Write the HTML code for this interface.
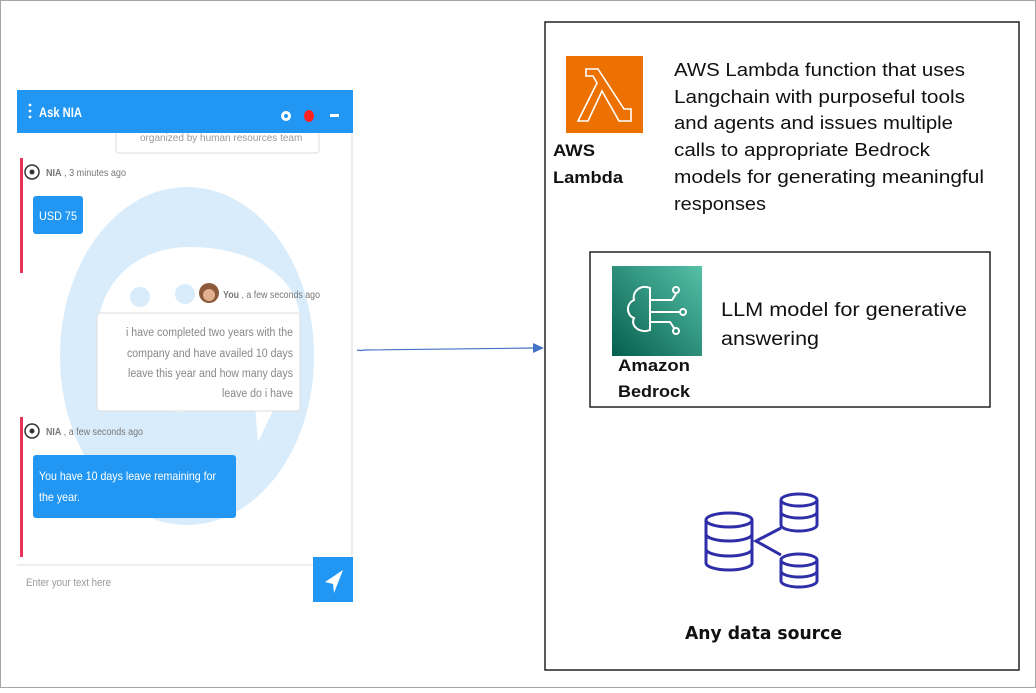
<!DOCTYPE html>
<html><head><meta charset="utf-8"><style>
body{margin:0;background:#fff;}
svg text{font-family:"Liberation Sans",sans-serif;}
.c{font-family:"DejaVu Sans","Liberation Sans",sans-serif;}
</style></head><body>
<svg width="1036" height="688" viewBox="0 0 1036 688" xmlns="http://www.w3.org/2000/svg">
<rect x="0.5" y="0.5" width="1035" height="687" fill="#fff" stroke="#a6a6a6"/>
<!-- chat panel -->
<rect x="17" y="90" width="336" height="512" fill="#fff"/>
<line x1="352" y1="132" x2="352" y2="565" stroke="#ddd"/>
<ellipse cx="187" cy="356" rx="127" ry="169" fill="#d8ecfb"/>
<path d="M190 247 C130 247 98 290 98 330 C98 380 130 410 180 412 L255 405 L258 442 L278 400 C300 380 300 340 300 320 C300 280 255 247 190 247Z" fill="#fff"/>
<circle cx="140" cy="297" r="10" fill="#d8ecfb"/>
<circle cx="185" cy="294" r="10" fill="#d8ecfb"/>
<rect x="116" y="125" width="203" height="28" rx="3" fill="#fff" stroke="#ddd"/>
<text x="140" y="141" font-size="10" fill="#999">organized by human resources team</text>
<rect x="17" y="90" width="336" height="43" fill="#2196f3"/>
<circle cx="30" cy="105" r="1.4" fill="#fff"/><circle cx="30" cy="111" r="1.4" fill="#fff"/><circle cx="30" cy="117" r="1.4" fill="#fff"/>
<text x="39" y="117" font-size="14" font-weight="bold" fill="#fff" textLength="43" lengthAdjust="spacingAndGlyphs">Ask NIA</text>
<circle cx="286" cy="116" r="5" fill="#fff"/><circle cx="286" cy="116" r="2" fill="#2196f3"/>
<ellipse cx="309" cy="116" rx="5" ry="6" fill="#f22"/>
<rect x="330" y="114" width="9" height="3" fill="#fff"/>
<rect x="20" y="158" width="3" height="115" fill="#e8345a"/>
<rect x="20" y="417" width="3" height="140" fill="#e8345a"/>
<circle cx="32" cy="172" r="7" fill="#fff" stroke="#333" stroke-width="1.5"/><circle cx="32" cy="172" r="2.5" fill="#333"/>
<text x="46" y="176" font-size="10" fill="#777" textLength="80" lengthAdjust="spacingAndGlyphs"><tspan font-weight="bold">NIA</tspan> , 3 minutes ago</text>
<rect x="33" y="196" width="50" height="38" rx="3" fill="#2196f3"/>
<text x="39" y="220" font-size="12" fill="#fff" textLength="38" lengthAdjust="spacingAndGlyphs">USD 75</text>
<circle cx="209" cy="293" r="10" fill="#8a5a3a"/><circle cx="209" cy="295" r="6" fill="#e0b090"/>
<text x="223" y="298" font-size="10" fill="#777" textLength="97" lengthAdjust="spacingAndGlyphs"><tspan font-weight="bold">You</tspan> , a few seconds ago</text>
<rect x="97" y="313" width="203" height="98" rx="3" fill="#fff" stroke="#ddd"/>
<g font-size="11.5" fill="#888">
<text x="126" y="336" textLength="167" lengthAdjust="spacingAndGlyphs">i have completed two years with the</text>
<text x="127" y="357" textLength="166" lengthAdjust="spacingAndGlyphs">company and have availed 10 days</text>
<text x="128" y="377" textLength="165" lengthAdjust="spacingAndGlyphs">leave this year and how many days</text>
<text x="222" y="397" textLength="71" lengthAdjust="spacingAndGlyphs">leave do i have</text></g>
<circle cx="32" cy="431" r="7" fill="#fff" stroke="#333" stroke-width="1.5"/><circle cx="32" cy="431" r="2.5" fill="#333"/>
<text x="46" y="435" font-size="10" fill="#777" textLength="97" lengthAdjust="spacingAndGlyphs"><tspan font-weight="bold">NIA</tspan> , a few seconds ago</text>
<rect x="33" y="455" width="203" height="63" rx="3" fill="#2196f3"/>
<text x="39" y="480" font-size="12" fill="#fff" textLength="177" lengthAdjust="spacingAndGlyphs">You have 10 days leave remaining for</text>
<text x="39" y="501" font-size="12" fill="#fff" textLength="41" lengthAdjust="spacingAndGlyphs">the year.</text>
<line x1="17" y1="565" x2="313" y2="565" stroke="#ddd"/>
<text x="26" y="586" font-size="11" fill="#999" textLength="85" lengthAdjust="spacingAndGlyphs">Enter your text here</text>
<rect x="313" y="557" width="40" height="45" fill="#2196f3"/>
<path d="M343 570 L325 582 L333 584 L334 593 Z" fill="#fff"/>
<!-- arrow -->
<path d="M357 350 Q360 351 365 350 L534 348" stroke="#4472c4" stroke-width="1.2" fill="none"/>
<path d="M533 343 L544 348 L533 353Z" fill="#4472c4"/>
<!-- right box -->
<rect x="545" y="22" width="474" height="648" fill="#fff" stroke="#222" stroke-width="1.5"/>
<rect x="566" y="56" width="77" height="77" fill="#ed7100"/>
<path d="M586 69 L598 69 L624 109 L631 109 L631 121 L619 121 L602 91 L588 121 L578 121 L597 83 L593 76 L586 76 Z" fill="none" stroke="#fff" stroke-width="1.6"/>
<g font-size="17" font-weight="bold" fill="#111" class="c"><text x="553" y="156" textLength="42" lengthAdjust="spacingAndGlyphs">AWS</text><text x="553" y="183" textLength="70" lengthAdjust="spacingAndGlyphs">Lambda</text></g>
<g font-size="18" fill="#111" class="c">
<text x="674" y="76" textLength="291" lengthAdjust="spacingAndGlyphs">AWS Lambda function that uses</text>
<text x="674" y="103" textLength="291" lengthAdjust="spacingAndGlyphs">Langchain with purposeful tools</text>
<text x="674" y="129" textLength="279" lengthAdjust="spacingAndGlyphs">and agents and issues multiple</text>
<text x="674" y="156" textLength="256" lengthAdjust="spacingAndGlyphs">calls to appropriate Bedrock</text>
<text x="674" y="183" textLength="310" lengthAdjust="spacingAndGlyphs">models for generating meaningful</text>
<text x="674" y="210" textLength="92" lengthAdjust="spacingAndGlyphs">responses</text></g>
<rect x="590" y="252" width="400" height="155" fill="#fff" stroke="#222" stroke-width="1.5"/>
<defs><linearGradient id="g" x1="0" y1="1" x2="1" y2="0"><stop offset="0" stop-color="#055f4e"/><stop offset="1" stop-color="#56c0a7"/></linearGradient></defs>
<rect x="612" y="266" width="90" height="90" fill="url(#g)"/>
<g fill="none" stroke="#fff" stroke-width="2">
<path d="M650 288 C640 284 632 292 634 300 C625 304 627 316 634 318 C630 326 640 334 650 330 Z"/>
<path d="M650 300 L672 300 L676 294 M650 312 L680 312 M650 322 L670 322 L674 328"/>
<circle cx="676" cy="290" r="3"/><circle cx="683" cy="312" r="3"/><circle cx="676" cy="331" r="3"/></g>
<g font-size="17" font-weight="bold" fill="#111" class="c"><text x="618" y="371" textLength="72" lengthAdjust="spacingAndGlyphs">Amazon</text><text x="618" y="397" textLength="72" lengthAdjust="spacingAndGlyphs">Bedrock</text></g>
<g font-size="19" fill="#111" class="c"><text x="721" y="316" textLength="246" lengthAdjust="spacingAndGlyphs">LLM model for generative</text><text x="721" y="345" textLength="98" lengthAdjust="spacingAndGlyphs">answering</text></g>
<!-- data source -->
<g fill="none" stroke="#2e2ea8" stroke-width="3">
<path d="M706 520 L706 563 A23 7 0 0 0 752 563 L752 520"/>
<ellipse cx="729" cy="520" rx="23" ry="7"/>
<path d="M706 534 A23 7 0 0 0 752 534 M706 549 A23 7 0 0 0 752 549"/>
<path d="M781 500 L781 525 A18 6 0 0 0 817 525 L817 500"/>
<ellipse cx="799" cy="500" rx="18" ry="6"/>
<path d="M781 512 A18 6 0 0 0 817 512"/>
<path d="M781 560 L781 581 A18 6 0 0 0 817 581 L817 560"/>
<ellipse cx="799" cy="560" rx="18" ry="6"/>
<path d="M781 571 A18 6 0 0 0 817 571"/>
<path d="M781 528 L756 541 L781 555"/></g>
<text x="685" y="639" font-size="18" font-weight="bold" fill="#111" class="c" textLength="157" lengthAdjust="spacingAndGlyphs">Any data source</text>
</svg>
</body></html>
